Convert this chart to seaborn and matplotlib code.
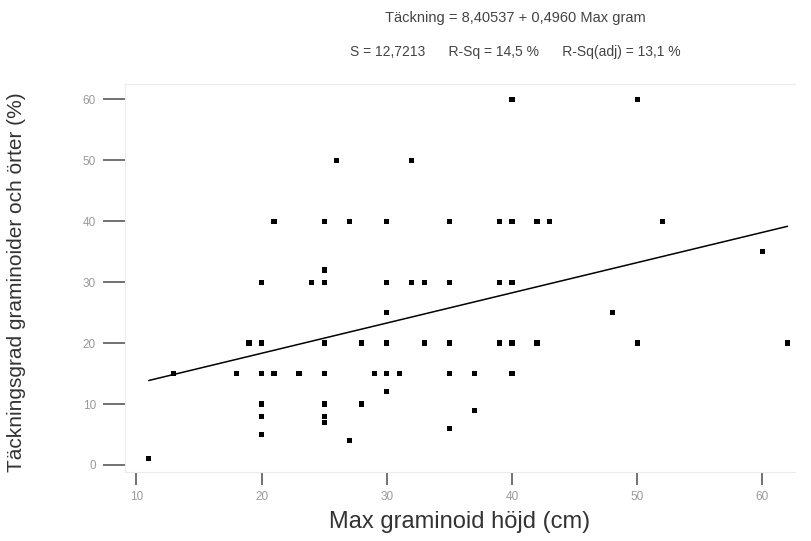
import numpy as np
import pandas as pd
import matplotlib
matplotlib.use("Agg")
import matplotlib.pyplot as plt
import seaborn as sns

# Data
max_hojd = [26, 32, 21, 25, 27, 30, 35, 25, 20, 24, 25, 30, 32, 33, 35, 30,
            19, 20, 25, 28, 30, 33, 35, 13, 18, 20, 21, 23, 25, 29, 30, 31,
            35, 30, 20, 25, 28, 20, 25, 25, 20, 35, 27, 11,
            40, 50, 39, 40, 42, 43, 52, 60, 39, 40, 48, 39, 40, 42, 50, 62,
            37, 40, 37]
tackning = [50, 50, 40, 40, 40, 40, 40, 32, 30, 30, 30, 30, 30, 30, 30, 25,
            20, 20, 20, 20, 20, 20, 20, 15, 15, 15, 15, 15, 15, 15, 15, 15,
            15, 12, 10, 10, 10, 8, 8, 7, 5, 6, 4, 1,
            60, 60, 40, 40, 40, 40, 40, 35, 30, 30, 25, 20, 20, 20, 20, 20,
            15, 15, 9]
x_ticks = [10, 20, 30, 40, 50, 60]
y_ticks = [0, 10, 20, 30, 40, 50, 60]

x_label = "Max graminoid höjd (cm)"
y_label = "Täckningsgrad graminoider och örter (%)"

df = pd.DataFrame({"x": max_hojd, "y": tackning})

# regression statistics for the header text
xa = np.asarray(max_hojd, float)
ya = np.asarray(tackning, float)
b, a = np.polyfit(xa, ya, 1)
res = ya - (a + b * xa)
n = len(xa)
sse = (res ** 2).sum()
sst = ((ya - ya.mean()) ** 2).sum()
s = np.sqrt(sse / (n - 2))
r2 = 1 - sse / sst
r2adj = 1 - (1 - r2) * (n - 1) / (n - 2)
fmt = lambda v, d: f"{v:.{d}f}".replace(".", ",")
line1 = f"Täckning = {fmt(a, 5)} + {fmt(b, 4)} Max gram"
line2 = f"S = {fmt(s, 4)}      R-Sq = {fmt(r2 * 100, 1)} %      R-Sq(adj) = {fmt(r2adj * 100, 1)} %"

sns.set_theme(style="white")
plt.rcParams["font.family"] = ["Liberation Sans", "DejaVu Sans"]

fig = plt.figure(figsize=(8.11, 5.41), dpi=100)
ax = fig.add_axes([125 / 811, 1 - 472 / 541, (795 - 125) / 811, (472 - 84) / 541])

sns.regplot(data=df, x="x", y="y", ax=ax, ci=None, marker="s",
            scatter_kws={"s": 14, "color": "black", "edgecolors": "none",
                         "alpha": 1.0},
            line_kws={"color": "black", "linewidth": 1.1})

ax.set_xlim(9.1, 62.6)
ax.set_ylim(-1.15, 62.5)
ax.set_xticks(x_ticks)
ax.set_yticks(y_ticks)
ax.set_xticklabels([str(t) for t in x_ticks])
ax.set_yticklabels([str(t) for t in y_ticks])
ax.tick_params(axis="both", which="major", direction="out", color="#666666",
               labelcolor="#9a9a9a", labelsize=8.5, width=1.3,
               bottom=True, left=True, top=False, right=False)
ax.tick_params(axis="y", length=16, pad=5)
ax.tick_params(axis="x", length=9.5, pad=4)

for side in ["left", "bottom", "top"]:
    ax.spines[side].set_visible(True)
    ax.spines[side].set_color("#ececec")
    ax.spines[side].set_linewidth(0.8)
ax.spines["right"].set_visible(False)

ax.set_xlabel(x_label, fontsize=17, color="#333333", labelpad=6)
ax.set_ylabel(y_label, fontsize=15, color="#333333", labelpad=2)
ax.yaxis.set_label_coords(-0.148, 0.49)

fig.text(515 / 811, 1 - 18 / 541, line1, ha="center", va="center",
         fontsize=10.5, color="#444444")
fig.text(515 / 811, 1 - 52 / 541, line2, ha="center", va="center",
         fontsize=10, color="#444444")

fig.savefig("out.png", dpi=100)
